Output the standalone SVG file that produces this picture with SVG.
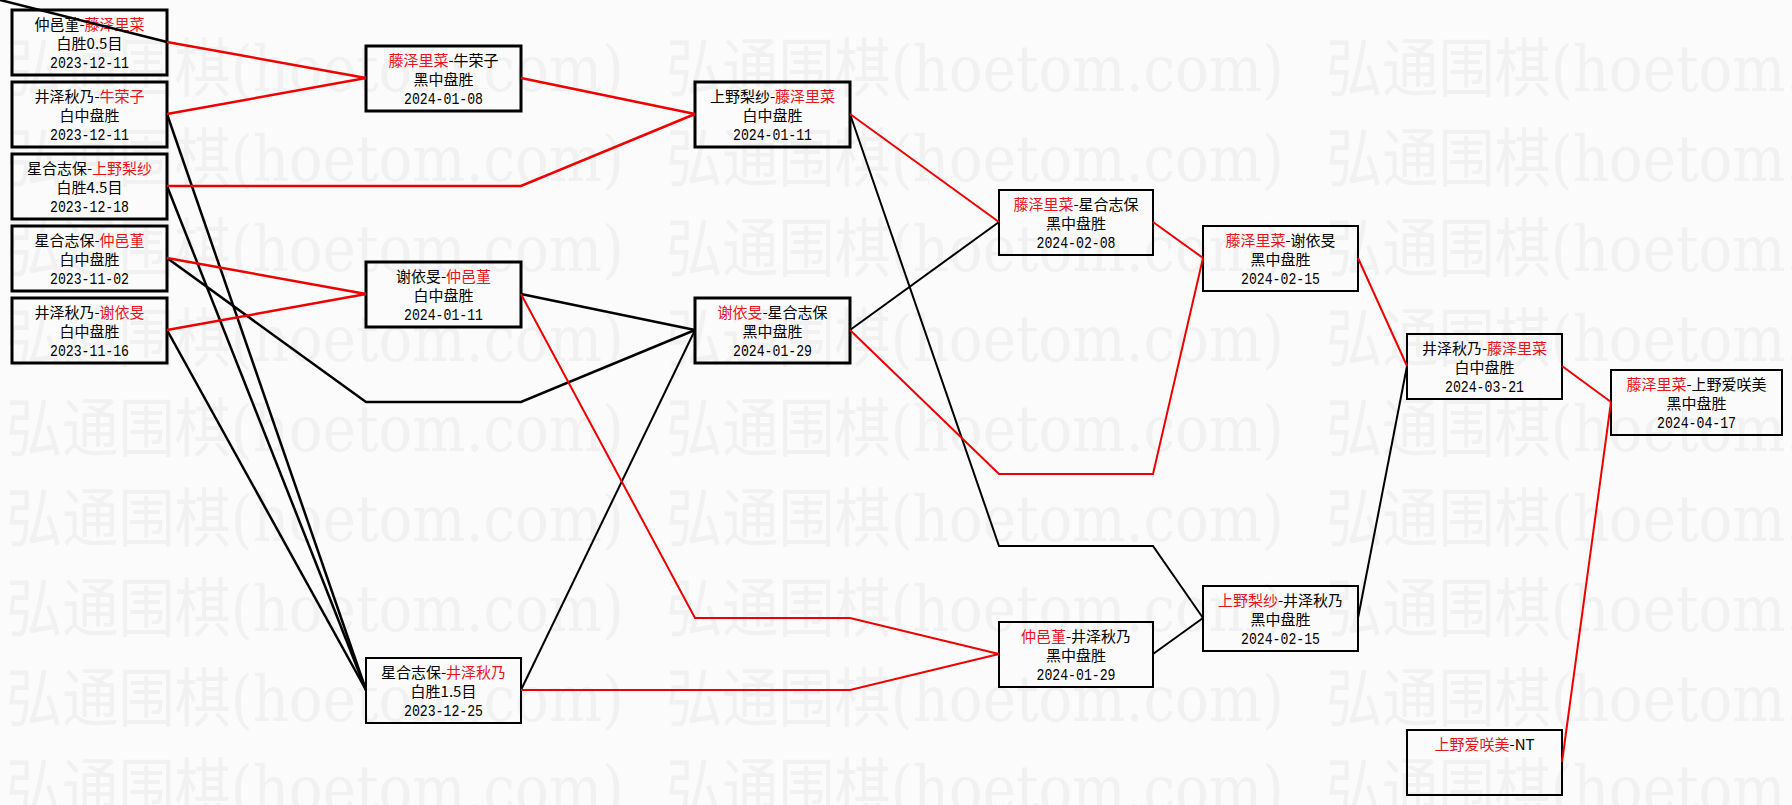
<svg xmlns="http://www.w3.org/2000/svg" width="1792" height="805" viewBox="0 0 1792 805">
<style>
.bg{fill:#fbfbfb}
.wm{font-family:"DejaVu Serif","Noto Sans CJK SC",serif;font-size:64px;fill:#f1f1f1}
.box{fill:none;stroke:#000}
.b3{stroke-width:3}
.b2{stroke-width:2}
.t{font-family:"Noto Sans CJK SC","Noto Sans",sans-serif;font-size:15px;fill:#000;text-anchor:middle}
.d{font-family:"Liberation Mono",monospace;font-size:16px;fill:#000;text-anchor:middle}
.r{fill:#e8141e}
.lr{fill:none;stroke:#ee0000;stroke-linejoin:miter}
.lb{fill:none;stroke:#000;stroke-linejoin:miter}
.w25{stroke-width:2.5}
.w2{stroke-width:2}
</style>
<rect class="bg" x="0" y="0" width="1792" height="805"/>
<g id="watermark">
<text class="wm" x="6" y="91" textLength="618" lengthAdjust="spacingAndGlyphs">弘通围棋(hoetom.com)</text>
<text class="wm" x="666" y="91" textLength="618" lengthAdjust="spacingAndGlyphs">弘通围棋(hoetom.com)</text>
<text class="wm" x="1326" y="91" textLength="618" lengthAdjust="spacingAndGlyphs">弘通围棋(hoetom.com)</text>
<text class="wm" x="6" y="181" textLength="618" lengthAdjust="spacingAndGlyphs">弘通围棋(hoetom.com)</text>
<text class="wm" x="666" y="181" textLength="618" lengthAdjust="spacingAndGlyphs">弘通围棋(hoetom.com)</text>
<text class="wm" x="1326" y="181" textLength="618" lengthAdjust="spacingAndGlyphs">弘通围棋(hoetom.com)</text>
<text class="wm" x="6" y="271" textLength="618" lengthAdjust="spacingAndGlyphs">弘通围棋(hoetom.com)</text>
<text class="wm" x="666" y="271" textLength="618" lengthAdjust="spacingAndGlyphs">弘通围棋(hoetom.com)</text>
<text class="wm" x="1326" y="271" textLength="618" lengthAdjust="spacingAndGlyphs">弘通围棋(hoetom.com)</text>
<text class="wm" x="6" y="361" textLength="618" lengthAdjust="spacingAndGlyphs">弘通围棋(hoetom.com)</text>
<text class="wm" x="666" y="361" textLength="618" lengthAdjust="spacingAndGlyphs">弘通围棋(hoetom.com)</text>
<text class="wm" x="1326" y="361" textLength="618" lengthAdjust="spacingAndGlyphs">弘通围棋(hoetom.com)</text>
<text class="wm" x="6" y="451" textLength="618" lengthAdjust="spacingAndGlyphs">弘通围棋(hoetom.com)</text>
<text class="wm" x="666" y="451" textLength="618" lengthAdjust="spacingAndGlyphs">弘通围棋(hoetom.com)</text>
<text class="wm" x="1326" y="451" textLength="618" lengthAdjust="spacingAndGlyphs">弘通围棋(hoetom.com)</text>
<text class="wm" x="6" y="541" textLength="618" lengthAdjust="spacingAndGlyphs">弘通围棋(hoetom.com)</text>
<text class="wm" x="666" y="541" textLength="618" lengthAdjust="spacingAndGlyphs">弘通围棋(hoetom.com)</text>
<text class="wm" x="1326" y="541" textLength="618" lengthAdjust="spacingAndGlyphs">弘通围棋(hoetom.com)</text>
<text class="wm" x="6" y="631" textLength="618" lengthAdjust="spacingAndGlyphs">弘通围棋(hoetom.com)</text>
<text class="wm" x="666" y="631" textLength="618" lengthAdjust="spacingAndGlyphs">弘通围棋(hoetom.com)</text>
<text class="wm" x="1326" y="631" textLength="618" lengthAdjust="spacingAndGlyphs">弘通围棋(hoetom.com)</text>
<text class="wm" x="6" y="721" textLength="618" lengthAdjust="spacingAndGlyphs">弘通围棋(hoetom.com)</text>
<text class="wm" x="666" y="721" textLength="618" lengthAdjust="spacingAndGlyphs">弘通围棋(hoetom.com)</text>
<text class="wm" x="1326" y="721" textLength="618" lengthAdjust="spacingAndGlyphs">弘通围棋(hoetom.com)</text>
<text class="wm" x="6" y="811" textLength="618" lengthAdjust="spacingAndGlyphs">弘通围棋(hoetom.com)</text>
<text class="wm" x="666" y="811" textLength="618" lengthAdjust="spacingAndGlyphs">弘通围棋(hoetom.com)</text>
<text class="wm" x="1326" y="811" textLength="618" lengthAdjust="spacingAndGlyphs">弘通围棋(hoetom.com)</text>
</g>
<g id="nodes">
<g id="n1"><rect class="box b3" x="12" y="10" width="155" height="65"/><text class="t" x="89.5" y="30">仲邑堇-<tspan class="r">藤泽里菜</tspan></text><text class="t" x="89.5" y="49">白胜0.5目</text><text class="d" x="89.5" y="68" textLength="79" lengthAdjust="spacingAndGlyphs">2023-12-11</text></g>
<g id="n2"><rect class="box b3" x="12" y="82" width="155" height="65"/><text class="t" x="89.5" y="102">井泽秋乃-<tspan class="r">牛荣子</tspan></text><text class="t" x="89.5" y="121">白中盘胜</text><text class="d" x="89.5" y="140" textLength="79" lengthAdjust="spacingAndGlyphs">2023-12-11</text></g>
<g id="n3"><rect class="box b3" x="12" y="154" width="155" height="65"/><text class="t" x="89.5" y="174">星合志保-<tspan class="r">上野梨纱</tspan></text><text class="t" x="89.5" y="193">白胜4.5目</text><text class="d" x="89.5" y="212" textLength="79" lengthAdjust="spacingAndGlyphs">2023-12-18</text></g>
<g id="n4"><rect class="box b3" x="12" y="226" width="155" height="65"/><text class="t" x="89.5" y="246">星合志保-<tspan class="r">仲邑堇</tspan></text><text class="t" x="89.5" y="265">白中盘胜</text><text class="d" x="89.5" y="284" textLength="79" lengthAdjust="spacingAndGlyphs">2023-11-02</text></g>
<g id="n5"><rect class="box b3" x="12" y="298" width="155" height="65"/><text class="t" x="89.5" y="318">井泽秋乃-<tspan class="r">谢依旻</tspan></text><text class="t" x="89.5" y="337">白中盘胜</text><text class="d" x="89.5" y="356" textLength="79" lengthAdjust="spacingAndGlyphs">2023-11-16</text></g>
<g id="nA"><rect class="box b3" x="366" y="46" width="155" height="65"/><text class="t" x="443.5" y="66"><tspan class="r">藤泽里菜</tspan>-牛荣子</text><text class="t" x="443.5" y="85">黑中盘胜</text><text class="d" x="443.5" y="104" textLength="79" lengthAdjust="spacingAndGlyphs">2024-01-08</text></g>
<g id="nB"><rect class="box b3" x="366" y="262" width="155" height="65"/><text class="t" x="443.5" y="282">谢依旻-<tspan class="r">仲邑堇</tspan></text><text class="t" x="443.5" y="301">白中盘胜</text><text class="d" x="443.5" y="320" textLength="79" lengthAdjust="spacingAndGlyphs">2024-01-11</text></g>
<g id="nC"><rect class="box b2" x="366" y="658" width="155" height="65"/><text class="t" x="443.5" y="678">星合志保-<tspan class="r">井泽秋乃</tspan></text><text class="t" x="443.5" y="697">白胜1.5目</text><text class="d" x="443.5" y="716" textLength="79" lengthAdjust="spacingAndGlyphs">2023-12-25</text></g>
<g id="nD"><rect class="box b3" x="695" y="82" width="155" height="65"/><text class="t" x="772.5" y="102">上野梨纱-<tspan class="r">藤泽里菜</tspan></text><text class="t" x="772.5" y="121">白中盘胜</text><text class="d" x="772.5" y="140" textLength="79" lengthAdjust="spacingAndGlyphs">2024-01-11</text></g>
<g id="nE"><rect class="box b3" x="695" y="298" width="155" height="65"/><text class="t" x="772.5" y="318"><tspan class="r">谢依旻</tspan>-星合志保</text><text class="t" x="772.5" y="337">黑中盘胜</text><text class="d" x="772.5" y="356" textLength="79" lengthAdjust="spacingAndGlyphs">2024-01-29</text></g>
<g id="nF"><rect class="box b2" x="999" y="190" width="154" height="65"/><text class="t" x="1076" y="210"><tspan class="r">藤泽里菜</tspan>-星合志保</text><text class="t" x="1076" y="229">黑中盘胜</text><text class="d" x="1076" y="248" textLength="79" lengthAdjust="spacingAndGlyphs">2024-02-08</text></g>
<g id="nG"><rect class="box b2" x="999" y="622" width="154" height="65"/><text class="t" x="1076" y="642"><tspan class="r">仲邑堇</tspan>-井泽秋乃</text><text class="t" x="1076" y="661">黑中盘胜</text><text class="d" x="1076" y="680" textLength="79" lengthAdjust="spacingAndGlyphs">2024-01-29</text></g>
<g id="nH"><rect class="box b2" x="1203" y="226" width="155" height="65"/><text class="t" x="1280.5" y="246"><tspan class="r">藤泽里菜</tspan>-谢依旻</text><text class="t" x="1280.5" y="265">黑中盘胜</text><text class="d" x="1280.5" y="284" textLength="79" lengthAdjust="spacingAndGlyphs">2024-02-15</text></g>
<g id="nI"><rect class="box b2" x="1203" y="586" width="155" height="65"/><text class="t" x="1280.5" y="606"><tspan class="r">上野梨纱</tspan>-井泽秋乃</text><text class="t" x="1280.5" y="625">黑中盘胜</text><text class="d" x="1280.5" y="644" textLength="79" lengthAdjust="spacingAndGlyphs">2024-02-15</text></g>
<g id="nJ"><rect class="box b2" x="1407" y="334" width="155" height="65"/><text class="t" x="1484.5" y="354">井泽秋乃-<tspan class="r">藤泽里菜</tspan></text><text class="t" x="1484.5" y="373">白中盘胜</text><text class="d" x="1484.5" y="392" textLength="79" lengthAdjust="spacingAndGlyphs">2024-03-21</text></g>
<g id="nK"><rect class="box b2" x="1407" y="730" width="155" height="65"/><text class="t" x="1484.5" y="750"><tspan class="r">上野爱咲美</tspan>-NT</text></g>
<g id="nL"><rect class="box b2" x="1611" y="370" width="171" height="65"/><text class="t" x="1696.5" y="390"><tspan class="r">藤泽里菜</tspan>-上野爱咲美</text><text class="t" x="1696.5" y="409">黑中盘胜</text><text class="d" x="1696.5" y="428" textLength="79" lengthAdjust="spacingAndGlyphs">2024-04-17</text></g>
</g>
<g id="connectors">
<polyline class="lb w25" points="0,0 167,42"/>
<polyline class="lb w25" points="167,114 366,690"/>
<polyline class="lb w25" points="167,186 366,690"/>
<polyline class="lb w25" points="167,330 366,690"/>
<polyline class="lb w25" points="167,258 366,402 521,402 695,330"/>
<polyline class="lb w25" points="521,294 695,330"/>
<polyline class="lb w2" points="521,690 695,330"/>
<polyline class="lb w2" points="850,114 999,546 1153,546 1203,618"/>
<polyline class="lb w2" points="850,330 999,222"/>
<polyline class="lb w2" points="1153,654 1203,618"/>
<polyline class="lb w2" points="1358,618 1407,366"/>
<polyline class="lr w25" points="167,42 366,78"/>
<polyline class="lr w25" points="167,114 366,78"/>
<polyline class="lr w25" points="521,78 695,114"/>
<polyline class="lr w25" points="167,186 521,186 695,114"/>
<polyline class="lr w25" points="167,258 366,294"/>
<polyline class="lr w25" points="167,330 366,294"/>
<polyline class="lr w2" points="521,294 695,618 850,618 999,654"/>
<polyline class="lr w2" points="521,690 850,690 999,654"/>
<polyline class="lr w2" points="850,114 999,222"/>
<polyline class="lr w2" points="850,330 999,474 1153,474 1203,258"/>
<polyline class="lr w2" points="1153,222 1203,258"/>
<polyline class="lr w2" points="1358,258 1407,366"/>
<polyline class="lr w2" points="1562,366 1611,402"/>
<polyline class="lr w2" points="1562,762 1611,402"/>
</g>
</svg>
